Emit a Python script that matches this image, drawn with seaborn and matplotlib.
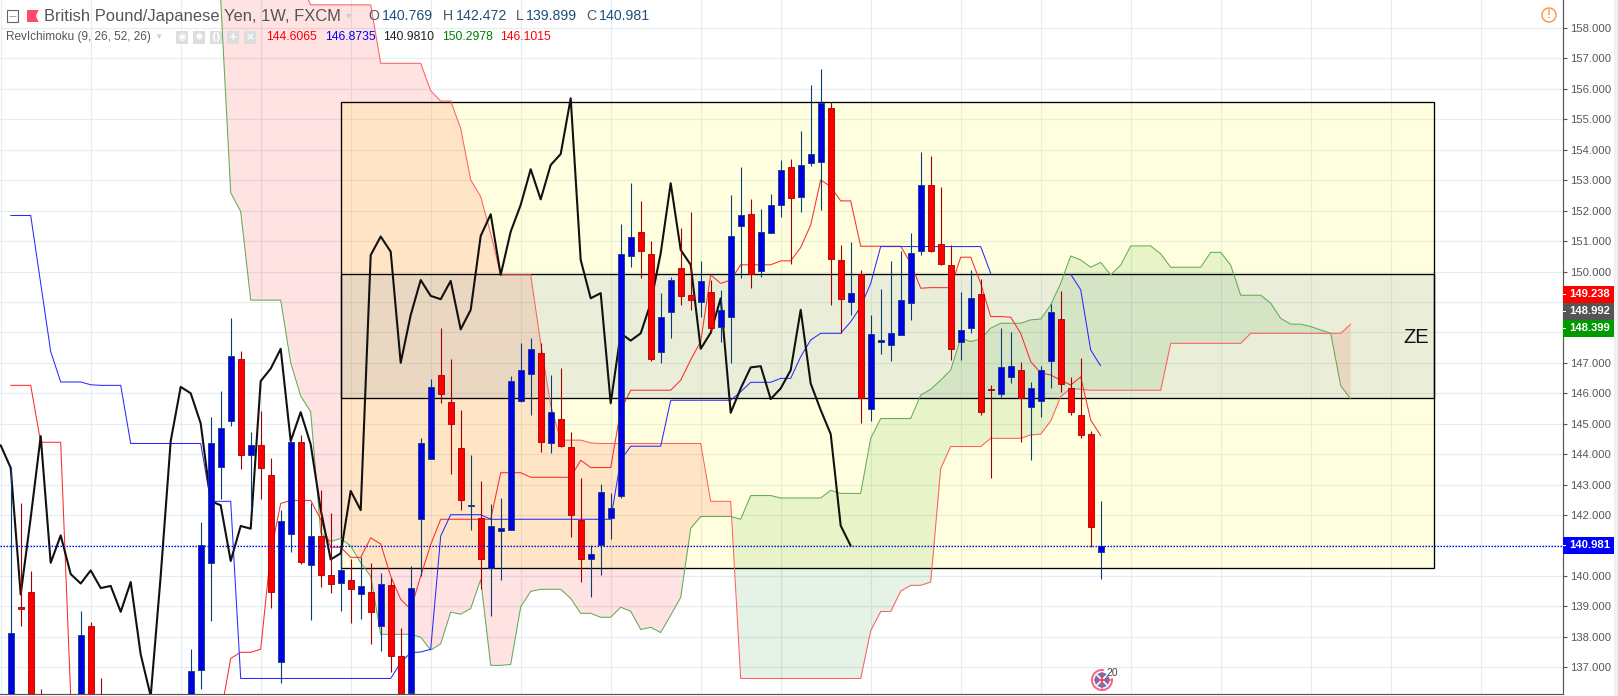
import numpy as np
import pandas as pd
import seaborn as sns
import matplotlib
matplotlib.use("Agg")
import matplotlib.pyplot as plt
from matplotlib.lines import Line2D
from matplotlib.patches import Rectangle, Circle, Polygon, Wedge
from matplotlib.transforms import Affine2D

# ---------- candles (weekly GBP/JPY) ----------
candle_index = [0, 1, 2, 3, 7, 8, 9] + list(range(18, 110))
opens = [135.6, 138.97, 139.47, 135.9, 135.4, 138.35, 135.9,
         135.8, 136.90, 140.43, 143.59, 145.10, 147.14, 143.98, 144.30, 143.33, 137.18,
         141.39, 144.40, 140.37, 141.30, 140.03, 139.78, 139.86, 139.41, 139.47, 138.37,
         139.70, 137.37, 136.16, 141.88, 143.85, 146.60, 145.71, 144.19, 142.30, 141.89,
         140.25, 141.48, 141.52, 145.75, 146.64, 147.31, 144.37, 145.17, 144.25, 141.83,
         140.54, 141.01, 141.91, 142.63, 150.52, 151.29, 150.57, 147.37, 148.68, 150.11,
         149.22, 148.99, 149.32, 148.19, 148.52, 151.51, 151.88, 150.03, 151.28, 152.17,
         153.43, 152.46, 153.58, 153.61, 155.36, 150.37, 149.01, 149.91, 145.49, 147.67,
         147.60, 147.93, 148.98, 150.69, 152.83, 150.90, 150.21, 147.67, 148.16, 149.25,
         146.15, 145.97, 146.54, 146.78, 145.56, 145.75, 147.07, 148.43, 146.18, 145.27,
         144.65, 140.769]
closes = [138.11, 138.91, 135.5, 135.0, 138.05, 135.5, 135.0,
          136.87, 141.03, 144.35, 144.85, 147.22, 143.98, 144.30, 143.55, 139.47, 141.80,
          144.40, 140.45, 141.30, 140.04, 139.74, 140.19, 139.58, 139.67, 138.82, 139.75,
          137.38, 135.9, 139.59, 144.35, 146.19, 145.98, 145.00, 142.50, 142.34, 140.54,
          141.63, 141.57, 146.40, 146.78, 147.44, 144.41, 145.37, 144.28, 142.01, 140.54,
          140.71, 142.74, 142.22, 150.58, 151.13, 150.66, 147.11, 148.50, 149.71, 149.18,
          149.08, 149.68, 148.13, 148.73, 151.16, 151.85, 149.93, 151.29, 152.18, 153.33,
          152.41, 153.49, 153.85, 155.55, 150.40, 149.11, 149.29, 145.85, 147.94, 147.75,
          147.97, 149.06, 150.60, 152.83, 150.69, 150.24, 147.47, 148.07, 149.12, 145.39,
          146.11, 146.85, 146.89, 145.83, 146.16, 146.75, 148.66, 146.31, 145.39, 144.64,
          141.62, 140.981]
highs = [143.55, 142.40, 140.16, 136.27, 138.84, 138.48, 136.64,
         137.59, 141.77, 145.22, 146.07, 148.46, 147.39, 144.72, 145.41, 143.86, 142.18,
         144.42, 144.62, 142.40, 142.82, 142.05, 140.76, 140.54, 140.62, 140.43, 140.08,
         139.92, 138.29, 140.34, 144.52, 146.48, 148.13, 147.11, 145.45, 143.97, 143.12,
         142.35, 142.56, 146.56, 147.65, 147.83, 147.65, 146.60, 146.82, 144.72, 143.20,
         141.01, 143.01, 142.71, 151.56, 152.90, 152.32, 151.01, 149.29, 149.83, 151.42,
         151.95, 150.35, 149.72, 149.40, 152.52, 153.44, 152.39, 152.06, 152.55, 153.67,
         153.70, 154.62, 156.13, 156.66, 155.56, 150.87, 150.96, 150.05, 148.57, 149.43,
         150.35, 150.66, 151.27, 153.91, 153.80, 152.78, 150.87, 149.33, 150.05, 149.75,
         146.27, 148.14, 148.00, 147.02, 146.36, 146.89, 148.93, 149.36, 146.52, 147.15,
         144.76, 142.472]
lows = [135.3, 138.35, 135.2, 134.8, 135.2, 135.2, 134.9,
        135.6, 136.29, 138.52, 142.53, 144.92, 143.52, 142.18, 142.53, 138.94, 136.49,
        140.78, 140.38, 138.55, 139.64, 139.45, 138.84, 138.46, 138.59, 137.77, 137.53,
        136.84, 135.7, 136.10, 140.00, 143.85, 145.69, 143.36, 142.16, 141.51, 139.56,
        138.68, 139.86, 141.52, 145.72, 145.28, 144.07, 144.05, 144.25, 141.29, 139.81,
        139.32, 140.03, 141.22, 142.55, 150.16, 149.80, 147.07, 146.99, 147.83, 148.90,
        148.72, 148.49, 147.97, 147.67, 147.01, 149.80, 149.47, 149.83, 151.25, 151.80,
        150.24, 151.97, 153.48, 152.02, 148.90, 147.97, 148.57, 145.03, 145.09, 147.29,
        147.07, 147.90, 148.41, 150.55, 150.65, 150.22, 147.10, 147.10, 147.99, 145.28,
        143.22, 145.89, 146.35, 144.41, 143.80, 145.23, 146.16, 146.03, 145.28, 144.54,
        140.96, 139.899]

# ---------- RevIchimoku lines ----------
lagging_start = -1
lagging = [144.29, 143.55, 139.39, 141.91, 144.59, 140.43, 141.33, 140.06, 139.75, 140.18,
           139.60, 139.67, 138.82, 139.80, 137.42, 136.05, 140.00, 144.43, 146.21, 146.00,
           145.01, 142.46, 142.32, 140.49, 141.64, 141.55, 146.40, 146.81, 147.46, 144.43,
           145.38, 144.32, 142.18, 140.54, 140.74, 142.79, 142.16, 150.54, 151.15, 150.65,
           147.00, 148.57, 149.72, 149.20, 149.09, 149.69, 148.10, 148.74, 151.17, 151.88,
           149.89, 151.31, 152.19, 153.36, 152.37, 153.50, 153.86, 155.69, 150.38, 149.12,
           149.29, 145.67, 147.97, 147.73, 147.97, 148.96, 150.60, 152.90, 150.71, 150.22,
           147.46, 147.99, 149.12, 145.36, 146.16, 146.85, 146.89, 145.81, 146.16, 146.76,
           148.74, 146.32, 145.45, 144.66, 141.65, 140.99]
conversion_start = 0
conversion = [146.26, 146.26, 146.26, 144.39, 144.39, 144.39, 136.05, 135.4, 135.4, 135.4,
              135.4, 135.4, 135.4, 135.4, 135.4, 135.4, 135.4, 135.4, 135.4, 135.4,
              135.4, 135.45, 137.29, 137.49, 137.49, 137.59, 140.76, 142.38, 142.48, 142.48,
              142.48, 141.86, 140.94, 140.94, 140.61, 140.61, 141.25, 141.05, 139.99, 139.23,
              138.90, 139.99, 141.03, 141.86, 141.86, 141.86, 141.86, 141.86, 141.86, 143.39,
              143.39, 143.39, 143.24, 143.24, 143.24, 143.24, 143.24, 143.80, 143.56, 143.56,
              143.56, 145.45, 146.10, 146.10, 146.10, 146.10, 146.10, 146.43, 147.10, 147.70,
              149.89, 149.61, 149.72, 150.22, 150.22, 150.22, 150.22, 150.35, 150.35, 150.79,
              151.53, 153.01, 152.79, 152.32, 152.32, 150.83, 150.83, 150.83, 150.83, 150.83,
              150.27, 149.45, 149.47, 149.47, 149.47, 150.47, 150.47, 149.61, 148.52, 148.52,
              148.50, 147.97, 147.04, 146.67, 146.60, 146.43, 146.27, 146.54, 145.12, 144.61]
base_start = 0
base = [151.84, 151.84, 151.84, 149.61, 147.37, 146.37, 146.37, 146.37, 146.28, 146.26,
        146.26, 146.26, 144.35, 144.35, 144.35, 144.35, 144.35, 144.35, 144.35, 144.35,
        142.45, 142.45, 142.45, 136.63, 136.63, 136.63, 136.63, 136.63, 136.63, 136.63,
        136.63, 136.63, 136.63, 136.63, 136.63, 136.63, 136.63, 136.63, 136.63, 137.15,
        137.48, 137.50, 137.59, 141.31, 142.01, 142.01, 142.01, 142.01, 141.86, 141.86,
        141.86, 141.86, 141.86, 141.86, 141.86, 141.86, 141.86, 141.86, 141.86, 141.86,
        141.86, 143.80, 144.26, 144.26, 144.26, 144.26, 145.77, 145.77, 145.77, 145.77,
        145.77, 145.77, 145.77, 146.05, 146.36, 146.36, 146.36, 146.49, 146.49, 147.20,
        147.75, 147.97, 147.97, 147.97, 148.35, 148.84, 149.61, 150.82, 150.82, 150.82,
        150.82, 150.82, 150.82, 150.82, 150.82, 150.82, 150.82, 150.82, 149.94]
base_tail_start = 106
base_tail = [149.91, 149.40, 147.42, 146.90]

span_start = 21
span_a = [158.92, 152.59, 151.97, 149.06, 149.06, 149.06, 149.06, 147.00, 145.91, 145.39,
          141.42, 141.13, 141.23, 140.98, 140.43, 139.99, 138.08, 138.08, 138.08, 138.08,
          137.99, 137.56, 137.77, 138.81, 138.74, 138.93, 139.88, 137.06, 137.06, 137.09,
          138.98, 139.49, 139.56, 139.56, 139.56, 139.26, 138.77, 138.77, 138.64, 138.64,
          138.97, 138.84, 138.24, 138.31, 138.14, 138.71, 139.29, 141.56, 141.95, 141.95,
          141.95, 141.95, 141.86, 142.64, 142.64, 142.64, 142.56, 142.56, 142.56, 142.56,
          142.56, 142.81, 142.71, 142.71, 142.71, 144.52, 145.17, 145.17, 145.17, 145.17,
          145.94, 146.13, 146.43, 146.76, 147.81, 147.70, 147.78, 148.14, 148.30, 148.30,
          148.30, 148.41, 148.44, 148.90, 149.61, 150.51, 150.38, 150.14, 150.30, 149.89,
          150.21, 150.84, 150.84, 150.84, 150.58, 150.14, 150.14, 150.14, 150.14, 150.63,
          150.63, 150.21, 149.22, 149.22, 149.22, 148.96, 148.46, 148.27, 148.27, 148.19,
          148.08, 147.97, 146.25, 145.81]
span_b = [160.5, 160.5, 160.5, 160.5, 160.5, 160.5, 160.5, 160.5, 159.5, 158.76,
          158.76, 158.76, 158.76, 158.76, 158.76, 158.76, 156.84, 156.84, 156.84, 156.84,
          156.84, 155.94, 155.60, 155.60, 154.70, 153.01, 152.46, 151.25, 149.89, 149.89,
          149.89, 149.89, 147.64, 145.60, 144.46, 144.46, 144.46, 144.37, 144.35, 144.35,
          144.35, 144.35, 144.35, 144.35, 144.35, 144.35, 144.35, 144.35, 144.35, 142.45,
          142.45, 142.45, 136.63, 136.63, 136.63, 136.63, 136.63, 136.63, 136.63, 136.63,
          136.63, 136.63, 136.63, 136.63, 136.63, 138.20, 138.83, 138.83, 139.50, 139.69,
          139.69, 139.80, 143.53, 144.25, 144.25, 144.25, 144.25, 144.52, 144.52, 144.52,
          144.52, 144.63, 144.66, 145.09, 145.89, 146.16, 146.13, 146.10, 146.10, 146.10,
          146.10, 146.10, 146.10, 146.10, 146.10, 147.64, 147.64, 147.64, 147.64, 147.64,
          147.64, 147.64, 147.64, 147.97, 147.97, 147.97, 147.97, 147.97, 147.97, 147.97,
          147.97, 147.97, 147.97, 148.27]

# ---------- drawn zones and axis values ----------
zone_left, zone_right = 33.0, 142.3
zone_top, zone_bottom = 155.56, 140.25
band_top, band_bottom = 149.91, 145.83
last_price = 140.981
price_ticks = [137, 138, 139, 140, 141, 142, 143, 144, 145, 146, 147, 148, 149, 150,
               151, 152, 153, 154, 155, 156, 157, 158]
price_labels = ["137.000", "138.000", "139.000", "140.000", "", "142.000", "143.000", "144.000",
                "145.000", "146.000", "147.000", "", "", "150.000", "151.000", "152.000",
                "153.000", "154.000", "155.000", "156.000", "157.000", "158.000"]
time_grid = [-1, 8, 17, 25, 34, 42, 51, 60, 69, 77, 86, 95, 103, 112, 121, 130, 138, 147]
tag_labels = ["149.238", "148.992", "148.399", "140.981"]
tag_prices = [149.245, 148.69, 148.13, 141.0]
tag_colors = ["#ff0000", "#555555", "#009900", "#0000ff"]
header_values = ["140.769", "142.472", "139.899", "140.981"]
header_letters = ["O", "H", "L", "C"]
indicator_values = ["144.6065", "146.8735", "140.9810", "150.2978", "146.1015"]
indicator_colors = ["#ff0000", "#0000ff", "#222222", "#008000", "#ff0000"]

W, H = 1618, 696
sns.set_theme(style="white")
plt.rcParams["font.family"] = ["Liberation Sans", "DejaVu Sans"]
fig = plt.figure(figsize=(W / 100, H / 100), dpi=100, facecolor="white")
ax = fig.add_axes([0, 1.7 / H, 1563 / W, 694.3 / H])
ax.set_facecolor("white")
PX = Affine2D().scale(1, -1).translate(0, H)  # figure pixels, origin top-left

# grid
for p in price_ticks:
    ax.axhline(p, color="#e6edf2", lw=0.85, zorder=0)
for t in time_grid:
    ax.axvline(t, color="#e6edf2", lw=0.85, zorder=0)

# cloud
span_x = np.arange(span_start, span_start + len(span_a))
a, b = np.array(span_a), np.array(span_b)
ax.fill_between(span_x, a, b, where=a >= b, interpolate=True, color=(0, 0.5, 0, 0.10), lw=0, zorder=1)
ax.fill_between(span_x, a, b, where=a <= b, interpolate=True, color=(1, 0, 0, 0.115), lw=0, zorder=1)

# zones
ax.add_patch(Rectangle((zone_left, zone_bottom), zone_right - zone_left, zone_top - zone_bottom,
                       facecolor=(1, 1, 0, 0.125), edgecolor="black", lw=0.95, zorder=1.2))
ax.add_patch(Rectangle((zone_left, band_bottom), zone_right - zone_left, band_top - band_bottom,
                       facecolor=(0.10, 0.30, 0.62, 0.09), edgecolor="black", lw=0.95, zorder=1.3))


def line(start, values, color, lw):
    df = pd.DataFrame({"week": np.arange(start, start + len(values)), "price": values})
    sns.lineplot(data=df, x="week", y="price", estimator=None, sort=False, color=color,
                 linewidth=lw, ax=ax, legend=False, zorder=2)


line(span_start, span_a, "#62ab55", 0.75)
line(span_start, span_b, "#ff6060", 0.75)
line(conversion_start, conversion, "#ff2a2a", 0.75)
line(base_start, base, "#2a2aff", 0.75)
line(base_tail_start, base_tail, "#2a2aff", 0.75)
line(lagging_start, lagging, "#111111", 1.5)

# candles
cx = np.array(candle_index, dtype=float)
o, c, hi, lo = map(np.array, (opens, closes, highs, lows))
up = c >= o
ax.vlines(cx[up], lo[up], hi[up], color="#0a3d78", lw=0.8, zorder=3)
ax.vlines(cx[~up], lo[~up], hi[~up], color="#a00000", lw=0.8, zorder=3)
ax.bar(cx[up], (c - o)[up], bottom=o[up], width=0.62, color="#0000e6", edgecolor="#0a3d78", lw=0.6, zorder=3.2)
ax.bar(cx[~up], (o - c)[~up], bottom=c[~up], width=0.62, color="#ff0000", edgecolor="#a00000", lw=0.6, zorder=3.2)

# last price line
ax.axhline(last_price, color="#0000ff", lw=0.9, ls=(0, (1.2, 1.2)), zorder=3.5)

ax.text(139.3, 147.83, "ZE", fontsize=14.5, color="#111111", ha="left", va="center", zorder=4)

ax.set_xlim(-1.07, 155.23)
ax.set_ylim(136.11, 158.92)
ax.set_xlabel("")
ax.set_ylabel("")
ax.set_xticks([])
ax.set_yticks(price_ticks)
ax.set_yticklabels(price_labels)
ax.tick_params(axis="y", right=True, labelright=True, left=False, labelleft=False, length=2.9,
               width=0.8, color="#555555", labelcolor="#555555", labelsize=8.1, pad=2.4)
for s in ("left", "top"):
    ax.spines[s].set_visible(False)
for s in ("right", "bottom"):
    ax.spines[s].set_color("#555555")
    ax.spines[s].set_linewidth(0.85)

# price tags
ytrans = ax.get_yaxis_transform()
tag_w = 51 / 1563
tag_h = 17 / 30.44
for lab, p, col in zip(tag_labels, tag_prices, tag_colors):
    ax.add_patch(Rectangle((1.0, p - tag_h / 2), tag_w, tag_h, transform=ytrans, facecolor=col,
                           edgecolor="none", clip_on=False, zorder=5))
    ax.add_patch(Rectangle((1.0, p - 0.5 / 30.44), 2.5 / 1563, 1 / 30.44, transform=ytrans, facecolor="white",
                           edgecolor="none", clip_on=False, zorder=5.5))
    ax.text(1.0 + 27 / 1563, p, lab, transform=ytrans, color="white", fontsize=8.1, fontweight="bold",
            ha="center", va="center", clip_on=False, zorder=6)


# ---------- header, in figure pixels ----------
def ptext(x, y, s, color="#555555", size=8.0, **kw):
    kw.setdefault("va", "center")
    kw.setdefault("ha", "left")
    fig.text(x, y, s, transform=PX, color=color, fontsize=size, zorder=10, **kw)


def padd(patch):
    patch.set_transform(PX)
    patch.set_zorder(9)
    fig.add_artist(patch)


def pline(xs, ys, color, lw):
    fig.add_artist(Line2D(xs, ys, transform=PX, color=color, lw=lw, zorder=9.5))


padd(Rectangle((1614, 0), 4, H, facecolor="#eef1f4", edgecolor="none"))
padd(Rectangle((6.5, 10), 11.5, 11.5, facecolor="none", edgecolor="#666666", lw=0.8))
padd(Rectangle((9, 15.5), 6.5, 0.6, facecolor="#666666", edgecolor="#666666", lw=0.4))
padd(Polygon([(27, 10), (38.5, 10), (36, 16), (38.5, 22), (27, 22)], closed=True, facecolor="#ff4a68", edgecolor="none"))
ptext(44, 16, "British Pound/Japanese Yen, 1W, FXCM", size=11.9)
ptext(346, 15, "▾", color="#cccccc", size=7.5, family=["DejaVu Sans"])
for x0, l, v in zip([368.5, 442.5, 515.5, 586], header_letters, header_values):
    ptext(x0, 16, l, size=10.2)
    ptext(x0 + (13 if l != "L" else 10.5), 16, v, color="#1f4e79", size=10.2)

ptext(6.5, 37, "RevIchimoku (9, 26, 52, 26)", size=8.5)
ptext(157, 37, "▾", color="#cccccc", size=6.5, family=["DejaVu Sans"])
for x0, glyph in zip([176, 193, 210, 227, 244], ["◉", "✹", "()", "+", "×"]):
    padd(Rectangle((x0, 30.5), 12, 13, facecolor="#dddddd", edgecolor="none"))
    ptext(x0 + 6, 37, glyph, color="white", size=7.5, ha="center", fontweight="bold", family=["DejaVu Sans"])
for x0, v, col in zip([266, 325, 383, 442, 500], indicator_values, indicator_colors):
    ptext(x0, 37, v, color=col, size=8.7)

# warning mark
padd(Circle((1549, 15), 7, facecolor="none", edgecolor="#ff9a4d", lw=1.1))
ptext(1549, 15, "!", color="#ff9a4d", size=8.5, ha="center", fontweight="bold")

# UK event marker
padd(Circle((1102, 680), 7.5, facecolor="#5a78c4", edgecolor="none"))
pline([1096.7, 1107.3], [674.7, 685.3], "white", 1.2)
pline([1096.7, 1107.3], [685.3, 674.7], "white", 1.2)
pline([1094.5, 1109.5], [680, 680], "#e8475f", 1.3)
pline([1102, 1102], [672.5, 687.5], "#e8475f", 1.3)
padd(Wedge((1102, 680), 11, -10, 280, width=2, facecolor="#f8647f", edgecolor="none"))
ptext(1106, 673, "20", color="#444444", size=7.5)

fig.savefig("out.png", dpi=100, facecolor="white")
